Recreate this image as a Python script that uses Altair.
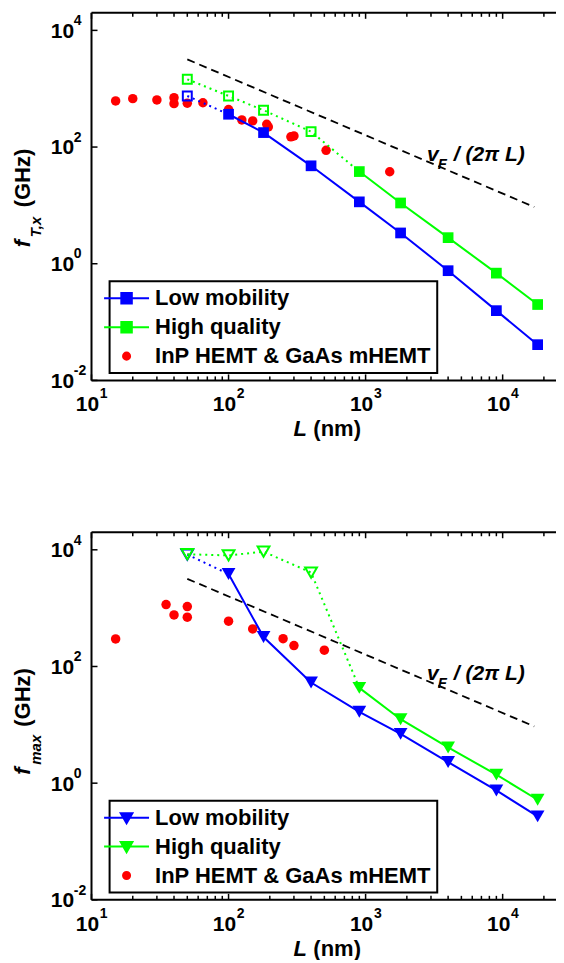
import altair as alt
import pandas as pd

FONT = "Liberation Sans"

# ---------------- data ----------------
L_solid = [100, 180, 400, 900, 1800, 4000, 9000, 18000]
L_hq_solid = [900, 1800, 4000, 9000, 18000]
L_hq_open = [50, 100, 180, 400]
L_low_open = [50]
L_dash = [50, 17000]
dash_f = [3180, 9.4]

# f_T,x panel
ft_low = [365, 177, 47.7, 11.5, 3.37, 0.76, 0.157, 0.041]
ft_low_open = [751]
ft_hq_open = [1450, 751, 428, 184]
ft_hq = [38, 11, 2.8, 0.69, 0.20]
ft_red_L = [15, 20, 30, 40, 40, 50, 65, 100, 125, 150, 190, 195, 285, 300, 515, 1500]
ft_red_f = [617, 676, 643, 703, 555, 563, 575, 440, 292, 281, 245, 221, 150, 155, 88, 37.7]

# f_max panel
fm_low = [3850, 320, 53, 16.7, 7.0, 2.3, 0.75, 0.27]
fm_low_open = [8300]
fm_hq_open = [8400, 8000, 9300, 4080]
fm_hq = [43, 12.5, 4.1, 1.4, 0.52]
fm_red_L = [15, 35, 40, 50, 50, 100, 150, 250, 300, 500]
fm_red_f = [297, 1150, 766, 1065, 699, 597, 441, 300, 228, 190]

series_names = ["Low mobility", "High quality", "InP HEMT & GaAs mHEMT"]
series_colors = ["#0000ff", "#00ff00", "#ff0000"]

x_major = [10, 100, 1000, 10000]
x_major_exp = ["1", "2", "3", "4"]
x_minor = [20, 30, 40, 50, 60, 70, 80, 90,
           200, 300, 400, 500, 600, 700, 800, 900,
           2000, 3000, 4000, 5000, 6000, 7000, 8000, 9000, 20000]
y_major = [0.01, 1, 100, 10000]
y_major_exp = ["-2", "0", "2", "4"]

# ---------------- layout constants ----------------
W, H = 473, 368
ONE = pd.DataFrame({"a": [0]})

square_leg = "M-3.4,0L-3.4,0M-3,0H3M-0.7,-0.7H0.7V0.7H-0.7Z"
tri_leg = "M-3.4,0L-3.4,0M-3,0H3M-0.78,-0.6H0.78L0,0.75Z"
circ_leg = "M-3.4,0L-3.4,0M0.47,0A0.47,0.47,0,1,1,-0.47,0A0.47,0.47,0,1,1,0.47,0Z"

xs = alt.Scale(type="log", domain=[10, 28030], nice=False)
ys = alt.Scale(type="log", domain=[0.01, 20000], nice=False)


def X():
    return alt.X("L:Q", scale=xs, axis=None)


def Y():
    return alt.Y("f:Q", scale=ys, axis=None)


def line(L, f, color, width=2, dash=None):
    kw = dict(color=color, strokeWidth=width)
    if dash:
        kw["strokeDash"] = dash
    return alt.Chart(pd.DataFrame({"L": L, "f": f})).mark_line(**kw).encode(x=X(), y=Y())


def pts(L, f, color, shape, filled, size, sw=2):
    kw = dict(shape=shape, filled=filled, size=size, color=color, opacity=1)
    if not filled:
        kw["strokeWidth"] = sw
    return alt.Chart(pd.DataFrame({"L": L, "f": f})).mark_point(**kw).encode(x=X(), y=Y())


def txt(text, x, y, size=22, style="normal", weight="bold", angle=0):
    return alt.Chart(ONE).mark_text(text=text, font=FONT, fontSize=size, fontStyle=style,
                                    fontWeight=weight, angle=angle, align="left",
                                    baseline="alphabetic",
                                    color="black").encode(x=alt.value(x), y=alt.value(y))


def data_txt(text, L, f, size, dx=0, dy=0):
    return alt.Chart(pd.DataFrame({"L": [L], "f": [f]})).mark_text(
        text=text, font=FONT, fontSize=size, fontStyle="italic", fontWeight="bold",
        align="left", baseline="alphabetic", dx=dx, dy=dy, color="black").encode(x=X(), y=Y())


def tick_labels():
    base = dict(font=FONT, fontWeight="bold", color="black", align="left", baseline="alphabetic")
    dx_ = pd.DataFrame({"L": x_major, "e": x_major_exp})
    dy_ = pd.DataFrame({"f": y_major, "e": y_major_exp})
    return [
        alt.Chart(dx_).mark_text(text="10", fontSize=21, dx=-15.7, dy=31, **base).encode(
            x=X(), y=alt.value(H)),
        alt.Chart(dx_).mark_text(fontSize=14, dx=8.3, dy=18, **base).encode(
            x=X(), y=alt.value(H), text="e:N"),
        alt.Chart(dy_).mark_text(text="10", fontSize=21, dy=7.4, **base).encode(
            x=alt.value(-40.7), y=Y()),
        alt.Chart(dy_).mark_text(fontSize=14, dx=23, dy=-5.3, **base).encode(
            x=alt.value(-40.7), y=Y(), text="e:N"),
    ]


def ticks_and_frame():
    layers = []
    for vals, ln in ((x_major, 6), (x_minor, 4)):
        d = pd.DataFrame({"L": vals})
        layers.append(alt.Chart(d).mark_rule(color="black", strokeWidth=1.5).encode(
            x=X(), y=alt.value(H), y2=alt.value(H - ln)))
        layers.append(alt.Chart(d).mark_rule(color="black", strokeWidth=1.5).encode(
            x=X(), y=alt.value(0), y2=alt.value(ln)))
    d = pd.DataFrame({"f": y_major})
    layers.append(alt.Chart(d).mark_rule(color="black", strokeWidth=1.5).encode(
        y=Y(), x=alt.value(0), x2=alt.value(6)))
    layers.append(alt.Chart(d).mark_rule(color="black", strokeWidth=1.5).encode(
        y=Y(), x=alt.value(W), x2=alt.value(W - 6)))
    layers.append(alt.Chart(ONE).mark_rule(color="black", strokeWidth=2).encode(
        x=alt.value(0), y=alt.value(0), y2=alt.value(H)))
    layers.append(alt.Chart(ONE).mark_rule(color="black", strokeWidth=2).encode(
        x=alt.value(0), x2=alt.value(W), y=alt.value(0)))
    layers.append(alt.Chart(ONE).mark_rule(color="black", strokeWidth=2).encode(
        x=alt.value(0), x2=alt.value(W), y=alt.value(H)))
    return layers


def panel(low, low_open, hq_open, hq, red_L, red_f, shape, leg_path, sub, ypos):
    leg = alt.Legend(orient="none", legendX=18.1, legendY=268.7, title=None, padding=6,
                     strokeColor="black", fillColor="white", labelFont=FONT,
                     labelFontSize=22, labelFontWeight="bold", labelColor="black",
                     labelLimit=500, labelOffset=17.5, rowPadding=7, symbolSize=225,
                     symbolStrokeWidth=2, direction="vertical")
    legend_layer = alt.Chart(alt.Data(values=[])).mark_point(
        filled=True, size=225, opacity=1, strokeWidth=2).encode(
        fill=alt.Fill("s:N", scale=alt.Scale(domain=series_names, range=series_colors), legend=leg),
        stroke=alt.Stroke("s:N", scale=alt.Scale(domain=series_names, range=series_colors), legend=leg),
        shape=alt.Shape("s:N", scale=alt.Scale(domain=series_names,
                                               range=[leg_path, leg_path, circ_leg]), legend=leg),
    )
    big = 115 if shape == "square" else 190
    small = 80 if shape == "square" else 140
    f_y, sub_y, ghz_y = ypos
    layers = [
        pts(red_L, red_f, "#ff0000", "circle", True, 90),
        line(L_dash, dash_f, "black", 1.8, [8, 5]),
        line([50, 100], [low_open[0], low[0]], "#0000ff", 2, [2, 4]),
        line(L_solid, low, "#0000ff", 2),
        pts(L_low_open, low_open, "#0000ff", shape, False, small),
        pts(L_solid, low, "#0000ff", shape, True, big),
        line(L_hq_open + [900], hq_open + [hq[0]], "#00ff00", 2, [2, 4]),
        line(L_hq_solid, hq, "#00ff00", 2),
        pts(L_hq_open, hq_open, "#00ff00", shape, False, small),
        pts(L_hq_solid, hq, "#00ff00", shape, True, big),
        legend_layer,
        data_txt("v", 2800, 58, 21),
        data_txt("F", 2800, 58, 15, dx=11, dy=8),
        data_txt("/ (2π L)", 2800, 58, 21, dx=27),
        # y title: f_sub (GHz), rotated
        txt("f", -62, f_y, style="italic", angle=270),
        txt(sub, -51, sub_y, size=15, style="italic", angle=270),
        txt("(GHz)", -62, ghz_y, angle=270),
        # x title: L (nm)
        txt("L", 202.3, H + 56, style="italic"),
        txt("(nm)", 202.3 + 19.8, H + 56),
    ] + tick_labels() + ticks_and_frame()
    return alt.layer(*layers).properties(width=W, height=H)


top = panel(ft_low, ft_low_open, ft_hq_open, ft_hq, ft_red_L, ft_red_f, "square",
            square_leg, "T,x", (234.7, 224.7, 194.7))
bottom = panel(fm_low, fm_low_open, fm_hq_open, fm_hq, fm_red_L, fm_red_f, "triangle-down",
               tri_leg, "max", (242.7, 232.7, 194.7))

chart = alt.vconcat(top, bottom, spacing=91).resolve_scale(
    fill="independent", stroke="independent", shape="independent"
).properties(
    padding={"left": 3.6, "top": 3.3, "right": -9, "bottom": 0}
).configure_view(stroke=None).configure_legend(strokeWidth=2, cornerRadius=0)

chart.save("out.html", embed_options={"renderer": "svg", "actions": False})
